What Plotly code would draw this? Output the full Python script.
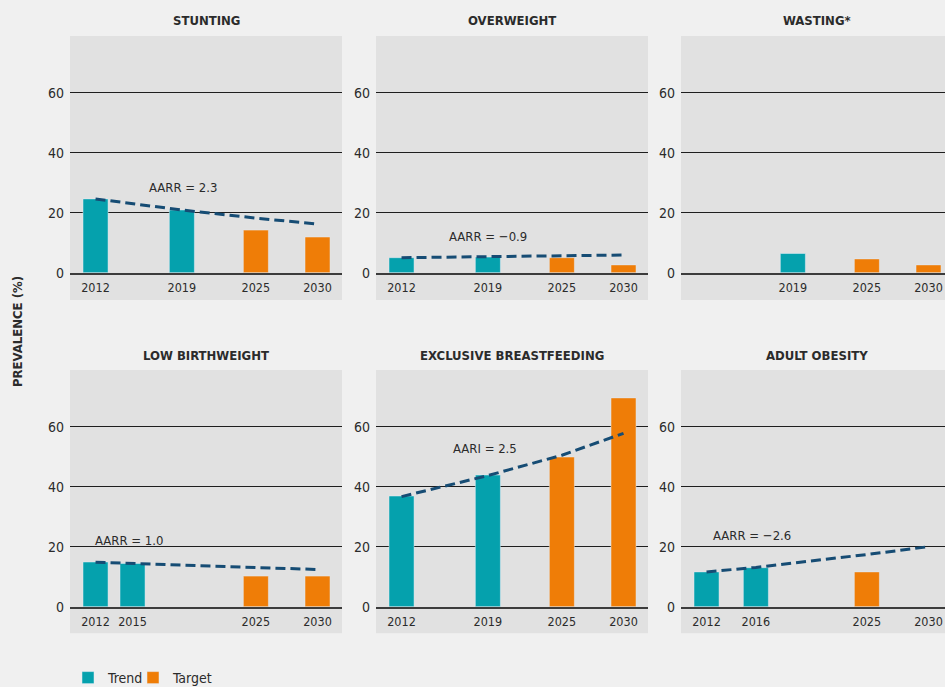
import plotly.graph_objects as go

# ---------------- data ----------------
stunting_trend_years = [2012, 2019]
stunting_trend = [24.6, 20.9]
stunting_target_years = [2025, 2030]
stunting_target = [14.2, 11.9]
stunting_line_years = [2012, 2019, 2025, 2030]
stunting_line = [24.6, 20.9, 18.2, 16.2]
stunting_label = "AARR = 2.3"

overweight_trend_years = [2012, 2019]
overweight_trend = [5.0, 5.2]
overweight_target_years = [2025, 2030]
overweight_target = [5.0, 2.6]
overweight_line_years = [2012, 2019, 2025, 2030]
overweight_line = [5.0, 5.3, 5.6, 5.9]
overweight_label = "AARR = \u22120.9"

wasting_trend_years = [2019]
wasting_trend = [6.4]
wasting_target_years = [2025, 2030]
wasting_target = [4.6, 2.6]
wasting_line_years = []
wasting_line = []
wasting_label = ""

lbw_trend_years = [2012, 2015]
lbw_trend = [14.9, 14.4]
lbw_target_years = [2025, 2030]
lbw_target = [10.2, 10.2]
lbw_line_years = [2012, 2015, 2025, 2030]
lbw_line = [14.8, 14.4, 13.0, 12.4]
lbw_label = "AARR = 1.0"

ebf_trend_years = [2012, 2019]
ebf_trend = [36.9, 43.9]
ebf_target_years = [2025, 2030]
ebf_target = [49.9, 69.6]
ebf_line_years = [2012, 2019, 2025, 2030]
ebf_line = [36.7, 43.7, 50.5, 57.8]
ebf_label = "AARI = 2.5"

obesity_trend_years = [2012, 2016]
obesity_trend = [11.6, 13.0]
obesity_target_years = [2025]
obesity_target = [11.6]
obesity_line_years = [2012, 2016, 2025, 2030]
obesity_line = [11.6, 13.1, 17.4, 20.0]
obesity_label = "AARR = \u22122.6"

titles = ["STUNTING", "OVERWEIGHT", "WASTING*",
          "LOW BIRTHWEIGHT", "EXCLUSIVE BREASTFEEDING", "ADULT OBESITY"]
tick_years = [
    [2012, 2019, 2025, 2030],
    [2012, 2019, 2025, 2030],
    [2019, 2025, 2030],
    [2012, 2015, 2025, 2030],
    [2012, 2019, 2025, 2030],
    [2012, 2016, 2025, 2030],
]
y_ticks = [0, 20, 40, 60]
legend_names = ["Trend", "Target"]
y_title = "PREVALENCE (%)"

# ---------------- styling ----------------
W, H = 945, 687
FONT = "DejaVu Sans Condensed, Liberation Sans Narrow, DejaVu Sans, sans-serif"
TEAL = "#05A1AD"
ORANGE = "#EF7D07"
LINE = "#164C74"
TXT = "#2b2b2b"

series = [
    (stunting_trend_years, stunting_trend, stunting_target_years, stunting_target,
     stunting_line_years, stunting_line, stunting_label, (2019.1, 28.3)),
    (overweight_trend_years, overweight_trend, overweight_target_years, overweight_target,
     overweight_line_years, overweight_line, overweight_label, (2019.0, 12.2)),
    (wasting_trend_years, wasting_trend, wasting_target_years, wasting_target,
     wasting_line_years, wasting_line, wasting_label, None),
    (lbw_trend_years, lbw_trend, lbw_target_years, lbw_target,
     lbw_line_years, lbw_line, lbw_label, (2014.7, 22.0)),
    (ebf_trend_years, ebf_trend, ebf_target_years, ebf_target,
     ebf_line_years, ebf_line, ebf_label, (2018.8, 52.8)),
    (obesity_trend_years, obesity_trend, obesity_target_years, obesity_target,
     obesity_line_years, obesity_line, obesity_label, (2015.7, 23.7)),
]

col_px = [(70, 342), (376, 648), (681, 945)]
row_px = [(36, 272.7, 300), (370, 606.7, 633.3)]
PX_PER_YEAR = 12.333
X0 = 2009.93

fig = go.Figure()
shapes = []
annotations = []
layout_axes = {}

for i in range(6):
    r, c = divmod(i, 3)
    xl, xr = col_px[c]
    yt, yz, yb = row_px[r]
    n = "" if i == 0 else str(i + 1)
    xa, ya = "x" + n, "y" + n
    ty, tv, gy, gv, ly, lv, lab, labpos = series[i]

    fig.add_trace(go.Bar(x=ty, y=tv, width=2.03, marker_color=TEAL, name=legend_names[0],
                         showlegend=(i == 0), legend="legend", xaxis=xa, yaxis=ya))
    fig.add_trace(go.Bar(x=gy, y=gv, width=2.03, marker_color=ORANGE, name=legend_names[1],
                         showlegend=(i == 0), legend="legend2", xaxis=xa, yaxis=ya))
    if ly:
        fig.add_trace(go.Scatter(x=ly, y=lv, mode="lines", showlegend=False,
                                 line=dict(color=LINE, width=3, dash="10px,5px"),
                                 xaxis=xa, yaxis=ya))

    x_range = [X0, X0 + (xr - xl) / PX_PER_YEAR]
    y_top = (yz - yt) / 3.0
    layout_axes["xaxis" + n] = dict(
        domain=[xl / W, xr / W], range=x_range, anchor=ya,
        tickvals=tick_years[i], ticktext=[str(t) for t in tick_years[i]],
        showgrid=False, zeroline=False, showline=True, linecolor="#3c3c3c", linewidth=2,
        ticks="", ticklabelstandoff=2,
        tickfont=dict(family=FONT, size=12.5, color=TXT), fixedrange=True)
    layout_axes["yaxis" + n] = dict(
        domain=[1 - yz / H, 1 - yt / H], range=[0, y_top], anchor=xa,
        tickvals=y_ticks, showgrid=True, gridcolor="#1e1e1e", gridwidth=1.2,
        zeroline=False, showline=False, ticks="", ticklabelstandoff=5,
        tickfont=dict(family=FONT, size=14, color=TXT), fixedrange=True)

    shapes.append(dict(type="rect", xref="paper", yref="paper",
                       x0=xl / W, x1=xr / W, y0=1 - yb / H, y1=1 - yt / H,
                       fillcolor="#E1E1E1", line=dict(width=0), layer="below"))
    title_right = 953 if c == 2 else xr
    annotations.append(dict(text="<b>" + titles[i] + "</b>", xref="paper", yref="paper",
                            x=(xl + title_right) / 2 / W,
                            y=1 - (yt - 15) / H, showarrow=False, xanchor="center", yanchor="middle",
                            font=dict(family=FONT, size=13, color=TXT)))
    if lab:
        annotations.append(dict(text=lab, xref=xa, yref=ya, x=labpos[0], y=labpos[1],
                                showarrow=False, xanchor="center", yanchor="middle",
                                font=dict(family=FONT, size=13, color=TXT)))

annotations.append(dict(text="<b>" + y_title + "</b>", xref="paper", yref="paper",
                        x=17 / W, y=1 - 332 / H, textangle=-90, showarrow=False,
                        xanchor="center", yanchor="middle",
                        font=dict(family=FONT, size=13, color=TXT)))

legend_style = dict(orientation="h", y=-7 / H, xanchor="left", yanchor="bottom",
                    bgcolor="rgba(0,0,0,0)", font=dict(family=FONT, size=14, color=TXT),
                    itemwidth=30)

fig.update_layout(
    width=W, height=H, margin=dict(l=0, r=0, t=0, b=0, autoexpand=False),
    paper_bgcolor="#F0F0F0", plot_bgcolor="rgba(0,0,0,0)",
    barmode="overlay", shapes=shapes, annotations=annotations,
    showlegend=True,
    legend=dict(x=68 / W, **legend_style),
    legend2=dict(x=133 / W, **legend_style),
    **layout_axes,
)

fig.write_html("out.html", config={"displayModeBar": False},
               post_script="document.body.style.margin='0px';document.body.style.overflow='hidden';")
